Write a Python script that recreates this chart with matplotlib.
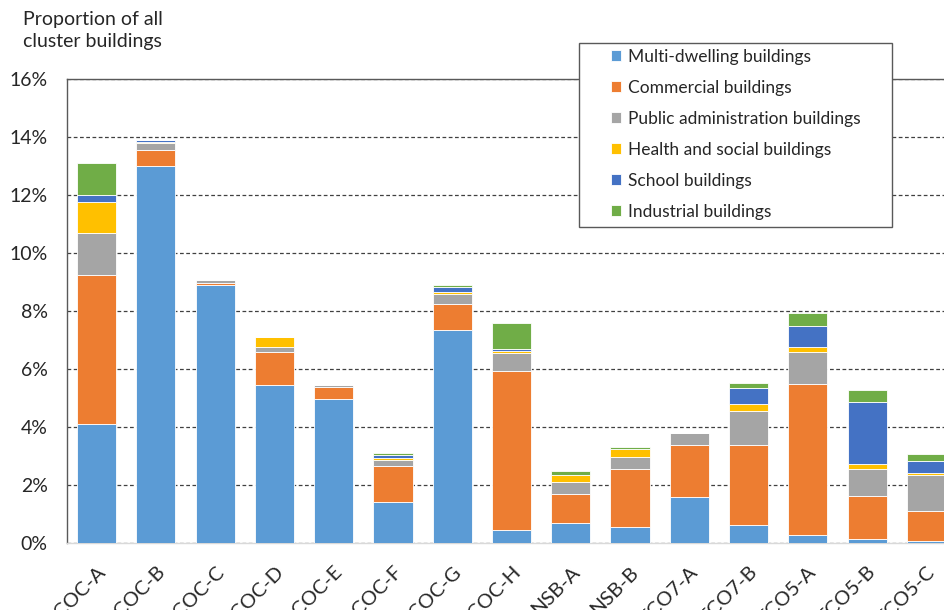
import numpy as np
import matplotlib.pyplot as plt
import matplotlib.transforms as mtransforms
from matplotlib.patches import Rectangle
from matplotlib.ticker import FuncFormatter

plt.rcParams['font.family'] = ['Lato', 'DejaVu Sans']

clusters = ["COC-A", "COC-B", "COC-C", "COC-D", "COC-E", "COC-F", "COC-G", "COC-H",
            "NSB-A", "NSB-B", "TCO7-A", "TCO7-B", "TCO5-A", "TCO5-B", "TCO5-C"]

# shares in % of all cluster buildings
multi_dwelling = [4.10, 13.00, 8.90, 5.45, 4.95, 1.40, 7.34, 0.45, 0.69, 0.54, 1.60, 0.62, 0.29, 0.13, 0.08]
commercial     = [5.15, 0.56, 0.08, 1.15, 0.42, 1.25, 0.90, 5.49, 1.00, 2.02, 1.79, 2.77, 5.19, 1.48, 1.03]
public_admin   = [1.45, 0.24, 0.08, 0.15, 0.08, 0.20, 0.35, 0.60, 0.40, 0.42, 0.41, 1.15, 1.11, 0.95, 1.23]
health_social  = [1.07, 0.02, 0.00, 0.34, 0.00, 0.07, 0.08, 0.07, 0.25, 0.25, 0.00, 0.25, 0.18, 0.17, 0.08]
school         = [0.24, 0.06, 0.00, 0.00, 0.00, 0.10, 0.16, 0.07, 0.00, 0.00, 0.00, 0.57, 0.73, 2.14, 0.41]
industrial     = [1.08, 0.02, 0.00, 0.00, 0.00, 0.08, 0.07, 0.92, 0.15, 0.08, 0.00, 0.17, 0.42, 0.41, 0.24]

series = [
    ("Multi-dwelling buildings", multi_dwelling, "#5B9BD5"),
    ("Commercial buildings", commercial, "#ED7D31"),
    ("Public administration buildings", public_admin, "#A5A5A5"),
    ("Health and social buildings", health_social, "#FFC000"),
    ("School buildings", school, "#4472C4"),
    ("Industrial buildings", industrial, "#70AD47"),
]

TEXT = "#262626"

fig = plt.figure(figsize=(9.45, 6.1), dpi=100)
W, H = 945, 610
ax = fig.add_axes([67 / W, 1 - 543 / H, 889 / W, 464 / H])

x = np.arange(len(clusters))
bottom = np.zeros(len(clusters))
handles = []
for name, vals, color in series:
    vals = np.array(vals)
    b = ax.bar(x, vals, 0.66, bottom=bottom, color=color, label=name,
               edgecolor="white", linewidth=0.6, zorder=3)
    handles.append(b)
    bottom += vals

ax.set_xlim(-0.5, len(clusters) - 0.5)
ax.set_ylim(0, 16)
ax.set_yticks(np.arange(0, 17, 2))
ax.yaxis.set_major_formatter(FuncFormatter(lambda v, p: f"{v:.0f}%"))
ax.grid(axis="y", linestyle=(0, (3, 2)), color="#404040", linewidth=0.9, zorder=0)
ax.tick_params(axis="y", length=0, pad=14, labelsize=14, labelcolor=TEXT)
ax.tick_params(axis="x", length=0, pad=19, labelsize=14.5, labelcolor=TEXT)

ax.set_xticks(x)
ax.set_xticklabels(clusters, rotation=45, ha="right", va="center", rotation_mode="anchor")
shift = mtransforms.ScaledTranslation(6 / 100, 0, fig.dpi_scale_trans)
for lbl in ax.get_xticklabels():
    lbl.set_transform(lbl.get_transform() + shift)

for s in ["left", "top"]:
    ax.spines[s].set_color("#595959")
    ax.spines[s].set_linewidth(1.0)
ax.spines["right"].set_visible(False)
ax.spines["bottom"].set_color("#D9D9D9")
ax.spines["bottom"].set_linewidth(1.0)

fig.text(23 / W, 1 - 11 / H, "Proportion of all\ncluster buildings", ha="left", va="top",
         fontsize=14, color=TEXT, linespacing=1.35)

# legend box drawn separately so the padding can differ per side
fig.patches.append(Rectangle((579 / W, 1 - 227 / H), 313 / W, 184 / H, transform=fig.transFigure,
                             facecolor="white", edgecolor="#595959", linewidth=1.0, zorder=5))
leg = fig.legend(handles=handles, loc="upper left", bbox_to_anchor=(611 / W, 1 - 49 / H),
                 frameon=False, fontsize=12.5, handlelength=0.6, handleheight=0.6,
                 handletextpad=0.4, labelspacing=0.86, borderpad=0, borderaxespad=0)
leg.set_zorder(6)
for t in leg.get_texts():
    t.set_color(TEXT)

fig.savefig("out.png", dpi=100)
